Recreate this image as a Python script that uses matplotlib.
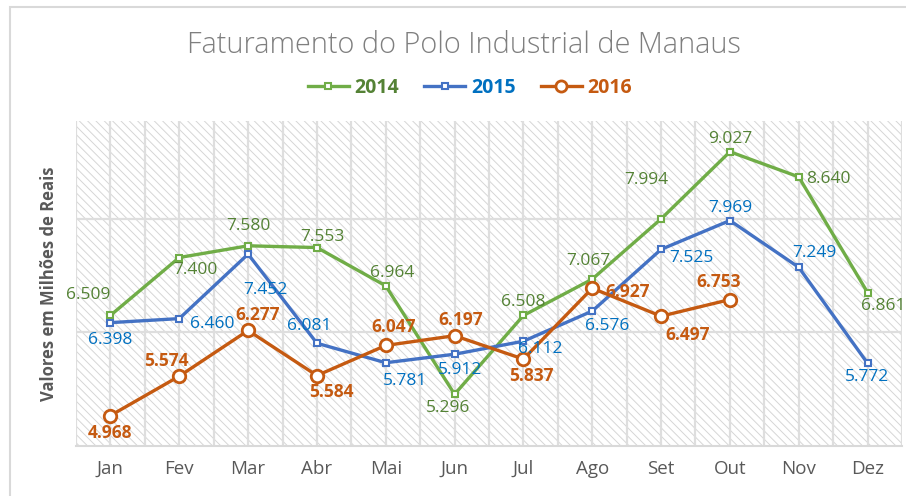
import matplotlib
matplotlib.use("Agg")
import matplotlib.pyplot as plt
from matplotlib.patches import Rectangle
from matplotlib.lines import Line2D

# data (R$ bilhões, displayed with thousands dot)
months = ['Jan', 'Fev', 'Mar', 'Abr', 'Mai', 'Jun', 'Jul', 'Ago', 'Set', 'Out', 'Nov', 'Dez']
v2014 = [6.509, 7.400, 7.580, 7.553, 6.964, 5.296, 6.508, 7.067, 7.994, 9.027, 8.640, 6.861]
v2015 = [6.398, 6.460, 7.452, 6.081, 5.781, 5.912, 6.112, 6.576, 7.525, 7.969, 7.249, 5.772]
v2016 = [4.968, 5.574, 6.277, 5.584, 6.047, 6.197, 5.837, 6.927, 6.497, 6.753]

# label offsets in pixels (dx, dy), dy positive = up
off2014 = [(-22, 20), (16, -13), (0, 20), (6, 11), (6, 13), (-7, -14), (0, 13), (-4, 18),
           (-15, 39), (0, 13), (30, -2), (16, -13)]
off2015 = [(0, -17), (33, -5), (17, -36), (-8, 17), (19, -18), (5, -16), (17, -8), (15, -15),
           (30, -9), (0, 13), (16, 14), (-1, -14)]
off2016 = [(0, -17), (-13, 15), (10, 15), (14, -16), (8, 18), (6, 16), (8, -17), (35, -4),
           (27, -19), (-11, 18)]

c14, c15, c16 = '#70AD47', '#4472C4', '#C55A11'
t14, t15, t16 = '#548235', '#0070C0', '#C55A11'

plt.rcParams['font.family'] = ['Open Sans', 'DejaVu Sans']
plt.rcParams['hatch.linewidth'] = 0.7

fig = plt.figure(figsize=(9.06, 4.96), dpi=100)
ax = fig.add_axes([76 / 906, 50 / 496, 826 / 906, 325 / 496])

# chart-area border
fig.add_artist(Rectangle((10 / 906, -0.01), 1.0, 1 - 7 / 496 + 0.01, transform=fig.transFigure,
                         fill=False, edgecolor='#d9d9d9', linewidth=1.5))

x = list(range(len(months)))

# hatched plot background
ax.add_patch(Rectangle((0, 0), 1, 1, transform=ax.transAxes, facecolor='white',
                       edgecolor='#d6d6d6', hatch='\\' * 4, linewidth=0, zorder=0))

for gx in [i - 0.5 for i in range(len(months) + 1)] + x:
    ax.axvline(gx, color='#dedede', linewidth=1.6, zorder=1)
for gy in [6.25, 8.0]:
    ax.axhline(gy, color='#dedede', linewidth=1.6, zorder=1)

ax.plot(x, v2014, color=c14, linewidth=2.4, marker='s', markersize=5,
        markerfacecolor='white', markeredgecolor=c14, markeredgewidth=1.5, zorder=3)
ax.plot(x, v2015, color=c15, linewidth=2.4, marker='s', markersize=5,
        markerfacecolor='white', markeredgecolor=c15, markeredgewidth=1.5, zorder=3)
ax.plot(x[:len(v2016)], v2016, color=c16, linewidth=2.4, marker='o', markersize=9,
        markerfacecolor='white', markeredgecolor=c16, markeredgewidth=2, zorder=4)

def fmt(v):
    return '{:.3f}'.format(v)

for vals, offs, col, wt in [(v2014, off2014, t14, 'normal'), (v2015, off2015, t15, 'normal'),
                            (v2016, off2016, t16, 'bold')]:
    for i, (v, (dx, dy)) in enumerate(zip(vals, offs)):
        ax.annotate(fmt(v), (i, v), xytext=(dx * 0.72, dy * 0.72), textcoords='offset points',
                    ha='center', va='center', color=col, fontsize=12.5, fontweight=wt, zorder=5)

ax.set_xlim(-0.5, 11.5)
ax.set_ylim(4.5, 9.5)
ax.set_xticks(x)
ax.set_xticklabels(months, fontsize=13.5, color='#595959')
ax.set_yticks([])
ax.tick_params(axis='x', length=0, pad=10)
for s in ['top', 'right', 'left']:
    ax.spines[s].set_visible(False)
ax.spines['bottom'].set_color('#d9d9d9')
ax.spines['bottom'].set_linewidth(1.5)

ax.set_ylabel('Valores em Milhões de Reais', fontsize=12, fontweight='bold',
              color='#595959', labelpad=13)

fig.text(464 / 906, 1 - 45 / 496, 'Faturamento do Polo Industrial de Manaus',
         ha='center', va='center', fontsize=20.8, fontweight='light', color='#7f7f7f')

handles = [
    Line2D([], [], color=c14, linewidth=2.4, marker='s', markersize=5, markerfacecolor='white',
           markeredgecolor=c14, markeredgewidth=1.5),
    Line2D([], [], color=c15, linewidth=2.4, marker='s', markersize=5, markerfacecolor='white',
           markeredgecolor=c15, markeredgewidth=1.5),
    Line2D([], [], color=c16, linewidth=2.4, marker='o', markersize=8, markerfacecolor='white',
           markeredgecolor=c16, markeredgewidth=2),
]
leg = fig.legend(handles, ['2014', '2015', '2016'], loc='center', ncol=3,
                 bbox_to_anchor=(470 / 906, 1 - 88 / 496), frameon=False,
                 prop={'size': 14, 'weight': 'bold'}, handlelength=2.1,
                 handletextpad=0.3, columnspacing=1.3)
for txt, col in zip(leg.get_texts(), [t14, t15, t16]):
    txt.set_color(col)

fig.savefig('out.png', dpi=100)
